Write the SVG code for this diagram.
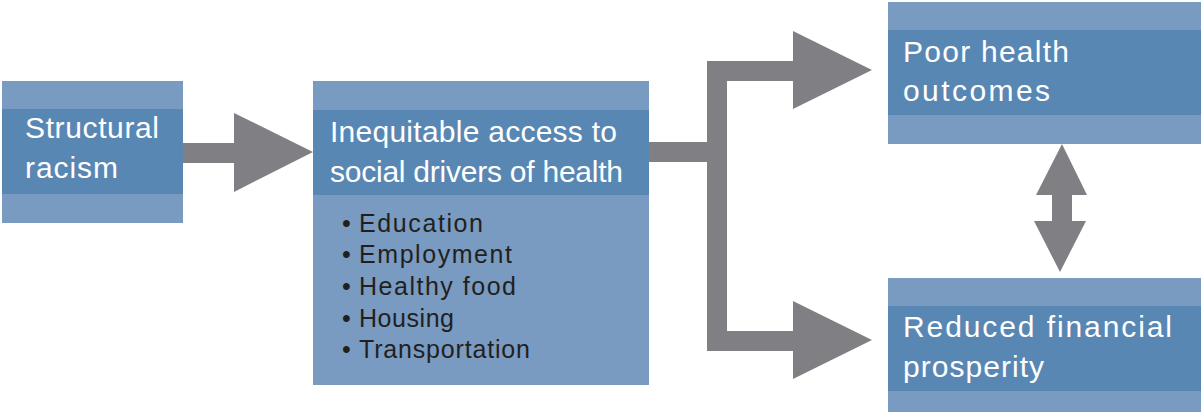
<svg xmlns="http://www.w3.org/2000/svg" width="1201" height="412" viewBox="0 0 1201 412">
<style>
.light{fill:#799bc1}
.dark{fill:#5987b4}
.arrow{fill:#808084}
.title{font-family:"Liberation Sans",Arial,sans-serif;font-size:30px;fill:#ffffff}
.bullet{font-family:"Liberation Sans",Arial,sans-serif;font-size:25px;fill:#231f20}
</style>
<rect width="1201" height="412" fill="#ffffff"/>
<g id="connectors">
<polygon class="arrow" points="183,143 234,143 234,113 313,152 234,192 234,163 183,163"/>
<polygon class="arrow" points="649,142 707,142 707,61 793,61 793,31 872,70 793,109 793,81 727,81 727,331 793,331 793,301 872,340 793,379 793,351 707,351 707,162 649,162"/>
<polygon class="arrow" points="1062,144 1087,195 1072,195 1072,221 1086,221 1060,272 1034,221 1052,221 1052,195 1036,195"/>
</g>
<g id="node-structural-racism">
<rect class="light" x="2" y="81" width="181" height="142"/>
<rect class="dark" x="2" y="109" width="181" height="85"/>
<text class="title" x="25" y="138" textLength="134" lengthAdjust="spacing">Structural</text>
<text class="title" x="25" y="178" textLength="93" lengthAdjust="spacing">racism</text>
</g>
<g id="node-inequitable-access">
<rect class="light" x="313" y="81" width="336" height="304"/>
<rect class="dark" x="313" y="110" width="336" height="85"/>
<text class="title" x="330" y="142" textLength="287" lengthAdjust="spacing">Inequitable access to</text>
<text class="title" x="330" y="182" textLength="293" lengthAdjust="spacing">social drivers of health</text>
<text class="bullet" x="342" y="232">•</text><text class="bullet" x="359" y="232" textLength="124" lengthAdjust="spacing">Education</text>
<text class="bullet" x="342" y="263">•</text><text class="bullet" x="359" y="263" textLength="153" lengthAdjust="spacing">Employment</text>
<text class="bullet" x="342" y="295">•</text><text class="bullet" x="359" y="295" textLength="157" lengthAdjust="spacing">Healthy food</text>
<text class="bullet" x="342" y="327">•</text><text class="bullet" x="359" y="327" textLength="95" lengthAdjust="spacing">Housing</text>
<text class="bullet" x="342" y="358">•</text><text class="bullet" x="359" y="358" textLength="171" lengthAdjust="spacing">Transportation</text>
</g>
<g id="node-poor-health">
<rect class="light" x="888" y="2" width="313" height="142"/>
<rect class="dark" x="888" y="30" width="313" height="85"/>
<text class="title" x="903" y="62" textLength="166" lengthAdjust="spacing">Poor health</text>
<text class="title" x="903" y="101" textLength="147" lengthAdjust="spacing">outcomes</text>
</g>
<g id="node-reduced-prosperity">
<rect class="light" x="888" y="278" width="313" height="134"/>
<rect class="dark" x="888" y="306" width="313" height="85"/>
<text class="title" x="903" y="337" textLength="269" lengthAdjust="spacing">Reduced financial</text>
<text class="title" x="903" y="377" textLength="141" lengthAdjust="spacing">prosperity</text>
</g>
</svg>
